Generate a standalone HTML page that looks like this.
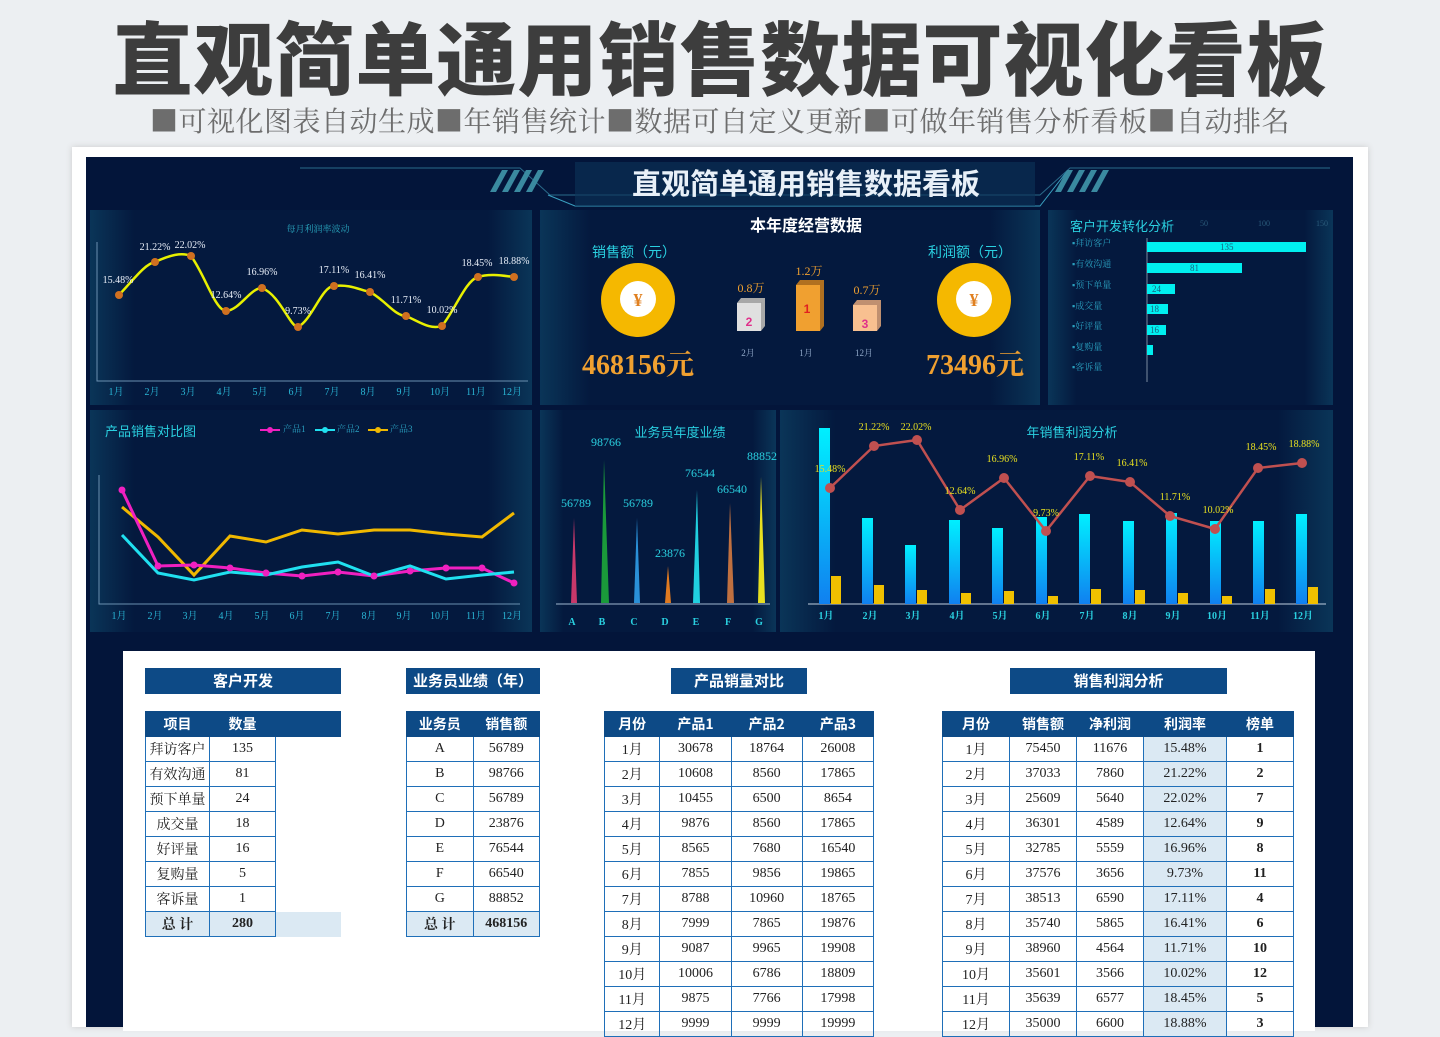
<!DOCTYPE html>
<html><head><meta charset="utf-8">
<style>
*{margin:0;padding:0;box-sizing:border-box}
body{width:1440px;height:1018px;overflow:hidden;background:#eceff2;font-family:"Liberation Sans","Noto Sans CJK SC",sans-serif;position:relative}
.abs{position:absolute}
#t1{left:0;width:1440px;top:16px;text-align:center;font-size:80px;font-weight:900;color:#3d3d3d;letter-spacing:1px;line-height:92px}
#t2{left:0;width:1440px;top:102px;text-align:center;font-family:"Noto Serif CJK SC",serif;font-size:28px;color:#6d6d6d;line-height:36px;letter-spacing:0.5px}
#card{left:72px;top:147px;width:1296px;height:880px;background:#fff;box-shadow:0 0 6px #ccc}
#dark{left:86px;top:157px;width:1267px;height:870px;background:#03153a}
#sheet{left:123px;top:651px;width:1192px;height:380px;background:#fff}
table{border-collapse:collapse;position:absolute;font-family:"Liberation Serif","Noto Serif CJK SC",serif;font-size:14px;color:#222}
td{height:25px;border:1.5px solid #1f6fb8;text-align:center;padding:0}
th{height:25px;background:#0d4a86;color:#fff;font-family:"Noto Sans CJK SC",sans-serif;font-size:14px;font-weight:700;border:1px solid #0d4a86}
.tt{position:absolute;height:26px;background:#0d4a86;color:#fff;font-weight:700;font-size:15px;text-align:center;line-height:26px;font-family:"Noto Sans CJK SC",sans-serif}
.tot td{background:#dbe9f3;font-weight:700}
.lt{background:#dbe9f3}
</style></head><body>
<div id="t1" class="abs">直观简单通用销售数据可视化看板</div>
<div id="t2" class="abs">■可视化图表自动生成■年销售统计■数据可自定义更新■可做年销售分析看板■自动排名</div>
<div id="card" class="abs"></div>
<div id="dark" class="abs"></div>
<svg class="abs" style="left:0;top:0" width="1440" height="1018" font-family="Liberation Serif,Noto Serif CJK SC,serif">
<defs>
<linearGradient id="cy" x1="0" y1="0" x2="0" y2="1"><stop offset="0" stop-color="#00f0ff"/><stop offset="1" stop-color="#1080f0"/></linearGradient>
<linearGradient id="pn" x1="0" y1="0" x2="1" y2="0"><stop offset="0" stop-color="#0a3558"/><stop offset=".1" stop-color="#04193e"/><stop offset=".9" stop-color="#04193e"/><stop offset="1" stop-color="#0a3558"/></linearGradient>
</defs>
<path d="M300 168 L520 168 L550 195 L1040 195 L1070 168 L1330 168" stroke="#2a6a8a" fill="none"/>
<path d="M548 195 L575 206 L1040 206 L1068 170" stroke="#3aa0c0" fill="none"/>
<rect x="575" y="162" width="460" height="44" fill="#0c3458" opacity=".6"/>
<g fill="#3a8aa0"><path d="M490 192l12-22h6l-12 22z"/><path d="M502 192l12-22h6l-12 22z"/><path d="M514 192l12-22h6l-12 22z"/><path d="M526 192l12-22h6l-12 22z"/>
<path d="M1055 192l12-22h6l-12 22z"/><path d="M1067 192l12-22h6l-12 22z"/><path d="M1079 192l12-22h6l-12 22z"/><path d="M1091 192l12-22h6l-12 22z"/></g>
<text x="806" y="194" text-anchor="middle" font-family="Noto Sans CJK SC,sans-serif" font-weight="700" font-size="29" fill="#e8f0f8">直观简单通用销售数据看板</text>
<rect x="90" y="210" width="442" height="195" fill="url(#pn)"/>
<rect x="540" y="210" width="500" height="195" fill="url(#pn)"/>
<rect x="1048" y="210" width="285" height="195" fill="url(#pn)"/>
<rect x="90" y="410" width="442" height="222" fill="url(#pn)"/>
<rect x="540" y="410" width="236" height="222" fill="url(#pn)"/>
<rect x="780" y="410" width="553" height="222" fill="url(#pn)"/>
<text x="318" y="232" text-anchor="middle" font-size="9" fill="#2aa8c0">每月利润率波动</text>
<path d="M97 242V381H528" stroke="#6a90b0" fill="none"/>
<path d="M119 295 C135 278,145 264,155 262 C170 255,182 252,191 256 C205 275,215 310,226 311 C240 310,250 288,262 288 C280 295,290 327,298 327 C312 320,322 286,334 286 C350 284,360 290,370 292 C385 300,395 316,406 316 C420 322,430 330,442 326 C455 310,466 280,478 277 C490 273,505 276,514 277" stroke="#e8f000" stroke-width="2.5" fill="none"/>
<g fill="#d07020">
<circle cx="119" cy="295" r="4"/><circle cx="155" cy="262" r="4"/><circle cx="191" cy="256" r="4"/><circle cx="226" cy="311" r="4"/><circle cx="262" cy="288" r="4"/><circle cx="298" cy="327" r="4"/><circle cx="334" cy="286" r="4"/><circle cx="370" cy="292" r="4"/><circle cx="406" cy="316" r="4"/><circle cx="442" cy="326" r="4"/><circle cx="478" cy="277" r="4"/><circle cx="514" cy="277" r="4"/></g>
<g font-size="10" fill="#e8eef8" text-anchor="middle">
<text x="118" y="283">15.48%</text><text x="155" y="250">21.22%</text><text x="190" y="248">22.02%</text><text x="226" y="298">12.64%</text><text x="262" y="275">16.96%</text><text x="298" y="314">9.73%</text><text x="334" y="273">17.11%</text><text x="370" y="278">16.41%</text><text x="406" y="303">11.71%</text><text x="442" y="313">10.02%</text><text x="477" y="266">18.45%</text><text x="514" y="264">18.88%</text></g>
<g font-size="10" fill="#2ab8d8" text-anchor="middle"><text x="116" y="395">1月</text><text x="152" y="395">2月</text><text x="188" y="395">3月</text><text x="224" y="395">4月</text><text x="260" y="395">5月</text><text x="296" y="395">6月</text><text x="332" y="395">7月</text><text x="368" y="395">8月</text><text x="404" y="395">9月</text><text x="440" y="395">10月</text><text x="476" y="395">11月</text><text x="512" y="395">12月</text></g>
<text x="806" y="231" text-anchor="middle" font-family="Noto Sans CJK SC,sans-serif" font-weight="700" font-size="16" fill="#fff">本年度经营数据</text>
<text x="634" y="257" text-anchor="middle" font-family="Noto Sans CJK SC,sans-serif" font-size="14" fill="#2ad0e0">销售额（元）</text>
<text x="970" y="257" text-anchor="middle" font-family="Noto Sans CJK SC,sans-serif" font-size="14" fill="#2ad0e0">利润额（元）</text>
<circle cx="638" cy="300" r="37" fill="#f5b800"/><circle cx="638" cy="299" r="18" fill="#fff"/>
<text x="638" y="306" text-anchor="middle" font-size="18" font-weight="700" fill="#e08020">¥</text>
<circle cx="974" cy="300" r="37" fill="#f5b800"/><circle cx="974" cy="299" r="18" fill="#fff"/>
<text x="974" y="306" text-anchor="middle" font-size="18" font-weight="700" fill="#e08020">¥</text>
<text x="638" y="374" text-anchor="middle" font-size="28" font-weight="700" fill="#f0a030">468156元</text>
<text x="975" y="374" text-anchor="middle" font-size="28" font-weight="700" fill="#f0a030">73496元</text>
<g font-size="12" text-anchor="middle">
<rect x="737" y="303" width="24" height="28" fill="#e0e0e0"/><path d="M737 303l4-5h24l-4 5zM761 303l4-5v28l-4 5z" fill="#a8a8a8"/>
<text x="749" y="326" fill="#e0308a" font-weight="700" font-family="Liberation Sans">2</text><text x="751" y="292" fill="#f0a030">0.8万</text>
<rect x="796" y="285" width="24" height="46" fill="#f0a030"/><path d="M796 285l4-5h24l-4 5zM820 285l4-5v46l-4 5z" fill="#b07020"/>
<text x="807" y="313" fill="#e02020" font-weight="700" font-family="Liberation Sans">1</text><text x="809" y="275" fill="#f0a030">1.2万</text>
<rect x="853" y="305" width="24" height="26" fill="#f8c090"/><path d="M853 305l4-5h24l-4 5zM877 305l4-5v26l-4 5z" fill="#c09070"/>
<text x="865" y="328" fill="#e0308a" font-weight="700" font-family="Liberation Sans">3</text><text x="867" y="294" fill="#f0a030">0.7万</text>
<g font-size="9" fill="#90a8c8"><text x="748" y="356">2月</text><text x="806" y="356">1月</text><text x="864" y="356">12月</text></g></g>
<text x="1070" y="231" font-family="Noto Sans CJK SC,sans-serif" font-size="13" fill="#2ad0e0">客户开发转化分析</text>
<g font-size="8" fill="#2a5a7a"><text x="1200" y="226">50</text><text x="1258" y="226">100</text><text x="1316" y="226">150</text></g>
<line x1="1147" y1="238" x2="1147" y2="382" stroke="#7a8aa0"/>
<g fill="#00f0f0"><rect x="1147" y="242" width="159" height="10"/><rect x="1147" y="263" width="95" height="10"/><rect x="1147" y="284" width="28" height="10"/><rect x="1147" y="304" width="21" height="10"/><rect x="1147" y="325" width="19" height="10"/><rect x="1147" y="345" width="6" height="10"/></g>
<g font-size="9" fill="#1a6080"><text x="1220" y="250">135</text><text x="1190" y="271">81</text><text x="1152" y="292">24</text><text x="1150" y="312">18</text><text x="1150" y="333">16</text></g>
<g font-size="9" fill="#2aa0c0"><text x="1072" y="246">▪拜访客户</text><text x="1072" y="267">▪有效沟通</text><text x="1072" y="288">▪预下单量</text><text x="1072" y="309">▪成交量</text><text x="1072" y="329">▪好评量</text><text x="1072" y="350">▪复购量</text><text x="1072" y="370">▪客诉量</text></g>
<text x="105" y="436" font-family="Noto Sans CJK SC,sans-serif" font-size="13" fill="#2ad0e0">产品销售对比图</text>
<g font-size="9" fill="#2aa0c0"><line x1="260" y1="430" x2="280" y2="430" stroke="#f020c0" stroke-width="2"/><circle cx="270" cy="430" r="3" fill="#f020c0"/><text x="283" y="432">产品1</text>
<line x1="315" y1="430" x2="335" y2="430" stroke="#20e0f0" stroke-width="2"/><circle cx="325" cy="430" r="3" fill="#20e0f0"/><text x="337" y="432">产品2</text>
<line x1="368" y1="430" x2="388" y2="430" stroke="#f0b800" stroke-width="2"/><circle cx="378" cy="430" r="3" fill="#f0b800"/><text x="390" y="432">产品3</text></g>
<path d="M99 475V604H520" stroke="#6a90b0" fill="none"/>
<polyline points="122,507 158,537 194,575 230,536 266,542 302,530 338,534 374,530 410,530 446,534 482,537 514,513" stroke="#f0b800" stroke-width="3" fill="none"/>
<polyline points="122,490 158,566 194,565 230,568 266,573 302,576 338,572 374,576 410,571 446,568 482,568 514,583" stroke="#f020c0" stroke-width="3" fill="none"/>
<polyline points="122,535 158,573 194,580 230,572 266,575 302,567 338,562 374,576 410,566 446,579 482,575 514,572" stroke="#20e0f0" stroke-width="3" fill="none"/>
<g fill="#f020c0"><circle cx="122" cy="490" r="3.5"/><circle cx="158" cy="566" r="3.5"/><circle cx="194" cy="565" r="3.5"/><circle cx="230" cy="568" r="3.5"/><circle cx="266" cy="573" r="3.5"/><circle cx="302" cy="576" r="3.5"/><circle cx="338" cy="572" r="3.5"/><circle cx="374" cy="576" r="3.5"/><circle cx="410" cy="571" r="3.5"/><circle cx="446" cy="568" r="3.5"/><circle cx="482" cy="568" r="3.5"/><circle cx="514" cy="583" r="3.5"/></g>
<g font-size="10" fill="#2ab8d8" text-anchor="middle"><text x="119" y="619">1月</text><text x="155" y="619">2月</text><text x="190" y="619">3月</text><text x="226" y="619">4月</text><text x="262" y="619">5月</text><text x="297" y="619">6月</text><text x="333" y="619">7月</text><text x="369" y="619">8月</text><text x="404" y="619">9月</text><text x="440" y="619">10月</text><text x="476" y="619">11月</text><text x="512" y="619">12月</text></g>
<text x="680" y="437" text-anchor="middle" font-family="Noto Sans CJK SC,sans-serif" font-size="13" fill="#2ad0e0">业务员年度业绩</text>
<line x1="556" y1="604" x2="770" y2="604" stroke="#a0b8d0"/>
<g>
<path d="M571 603L574 518L577 603Z" fill="#c8386a"/><path d="M601 603L604 460L609 603Z" fill="#1a9a3a"/><path d="M634 603L637 518L640 603Z" fill="#2a90d8"/><path d="M665 603L668 566L671 603Z" fill="#e07a20"/><path d="M693 603L697 490L700 603Z" fill="#20d0e0"/><path d="M727 603L730 503L734 603Z" fill="#c07040"/><path d="M758 603L761 477L765 603Z" fill="#e8e020"/></g>
<g font-size="12" fill="#2ad0e0" text-anchor="middle"><text x="576" y="507">56789</text><text x="606" y="446">98766</text><text x="638" y="507">56789</text><text x="670" y="557">23876</text><text x="700" y="477">76544</text><text x="732" y="493">66540</text><text x="762" y="460">88852</text></g>
<g font-size="10" font-weight="700" fill="#2ad0e0" text-anchor="middle"><text x="572" y="625">A</text><text x="602" y="625">B</text><text x="634" y="625">C</text><text x="665" y="625">D</text><text x="696" y="625">E</text><text x="728" y="625">F</text><text x="759" y="625">G</text></g>
<text x="1072" y="437" text-anchor="middle" font-family="Noto Sans CJK SC,sans-serif" font-size="13" fill="#2ad0e0">年销售利润分析</text>
<line x1="808" y1="604" x2="1326" y2="604" stroke="#c0d0e0"/>
<g fill="url(#cy)">
<rect x="819" y="428" width="11" height="176"/><rect x="862" y="518" width="11" height="86"/><rect x="905" y="545" width="11" height="59"/><rect x="949" y="520" width="11" height="84"/><rect x="992" y="528" width="11" height="76"/><rect x="1036" y="517" width="11" height="87"/><rect x="1079" y="514" width="11" height="90"/><rect x="1123" y="521" width="11" height="83"/><rect x="1166" y="513" width="11" height="91"/><rect x="1210" y="521" width="11" height="83"/><rect x="1253" y="521" width="11" height="83"/><rect x="1296" y="514" width="11" height="90"/></g>
<g fill="#f0c000">
<rect x="831" y="576" width="10" height="28"/><rect x="874" y="585" width="10" height="19"/><rect x="917" y="590" width="10" height="14"/><rect x="961" y="593" width="10" height="11"/><rect x="1004" y="591" width="10" height="13"/><rect x="1048" y="596" width="10" height="8"/><rect x="1091" y="589" width="10" height="15"/><rect x="1135" y="590" width="10" height="14"/><rect x="1178" y="593" width="10" height="11"/><rect x="1222" y="596" width="10" height="8"/><rect x="1265" y="589" width="10" height="15"/><rect x="1308" y="587" width="10" height="17"/></g>
<polyline points="830,488 874,446 917,440 960,510 1004,478 1046,531 1090,476 1130,482 1170,516 1215,529 1258,468 1302,463" stroke="#c05050" stroke-width="2.5" fill="none"/>
<g fill="#c05050"><circle cx="830" cy="488" r="5"/><circle cx="874" cy="446" r="5"/><circle cx="917" cy="440" r="5"/><circle cx="960" cy="510" r="5"/><circle cx="1004" cy="478" r="5"/><circle cx="1046" cy="531" r="5"/><circle cx="1090" cy="476" r="5"/><circle cx="1130" cy="482" r="5"/><circle cx="1170" cy="516" r="5"/><circle cx="1215" cy="529" r="5"/><circle cx="1258" cy="468" r="5"/><circle cx="1302" cy="463" r="5"/></g>
<g font-size="10" fill="#e8e020" text-anchor="middle"><text x="830" y="472">15.48%</text><text x="874" y="430">21.22%</text><text x="916" y="430">22.02%</text><text x="960" y="494">12.64%</text><text x="1002" y="462">16.96%</text><text x="1046" y="516">9.73%</text><text x="1089" y="460">17.11%</text><text x="1132" y="466">16.41%</text><text x="1175" y="500">11.71%</text><text x="1218" y="513">10.02%</text><text x="1261" y="450">18.45%</text><text x="1304" y="447">18.88%</text></g>
<g font-size="10" font-weight="700" fill="#2ad0e0" text-anchor="middle"><text x="826" y="619">1月</text><text x="870" y="619">2月</text><text x="913" y="619">3月</text><text x="957" y="619">4月</text><text x="1000" y="619">5月</text><text x="1043" y="619">6月</text><text x="1087" y="619">7月</text><text x="1130" y="619">8月</text><text x="1173" y="619">9月</text><text x="1217" y="619">10月</text><text x="1260" y="619">11月</text><text x="1303" y="619">12月</text></g>
</svg>
<div id="sheet" class="abs"></div>
<div class="tt" style="left:145px;top:668px;width:196px">客户开发</div>
<div class="tt" style="left:406px;top:668px;width:134px">业务员业绩（年）</div>
<div class="tt" style="left:671px;top:668px;width:136px">产品销量对比</div>
<div class="tt" style="left:1010px;top:668px;width:217px">销售利润分析</div>
<table style="left:145px;top:711px;width:196px"><tr><th style="width:64px">项目</th><th style="width:66px">数量</th><th></th></tr>
<tr><td>拜访客户</td><td>135</td><td style="border:none"></td></tr><tr><td>有效沟通</td><td>81</td><td style="border:none"></td></tr><tr><td>预下单量</td><td>24</td><td style="border:none"></td></tr><tr><td>成交量</td><td>18</td><td style="border:none"></td></tr><tr><td>好评量</td><td>16</td><td style="border:none"></td></tr><tr><td>复购量</td><td>5</td><td style="border:none"></td></tr><tr><td>客诉量</td><td>1</td><td style="border:none"></td></tr>
<tr class="tot"><td>总 计</td><td>280</td><td style="border:none"></td></tr></table>
<table style="left:406px;top:711px;width:134px"><tr><th>业务员</th><th>销售额</th></tr>
<tr><td>A</td><td>56789</td></tr><tr><td>B</td><td>98766</td></tr><tr><td>C</td><td>56789</td></tr><tr><td>D</td><td>23876</td></tr><tr><td>E</td><td>76544</td></tr><tr><td>F</td><td>66540</td></tr><tr><td>G</td><td>88852</td></tr><tr class="tot"><td>总 计</td><td>468156</td></tr></table>
<table style="left:604px;top:711px;width:270px"><tr><th>月份</th><th>产品1</th><th>产品2</th><th>产品3</th></tr>
<tr><td>1月</td><td>30678</td><td>18764</td><td>26008</td></tr><tr><td>2月</td><td>10608</td><td>8560</td><td>17865</td></tr><tr><td>3月</td><td>10455</td><td>6500</td><td>8654</td></tr><tr><td>4月</td><td>9876</td><td>8560</td><td>17865</td></tr><tr><td>5月</td><td>8565</td><td>7680</td><td>16540</td></tr><tr><td>6月</td><td>7855</td><td>9856</td><td>19865</td></tr><tr><td>7月</td><td>8788</td><td>10960</td><td>18765</td></tr><tr><td>8月</td><td>7999</td><td>7865</td><td>19876</td></tr><tr><td>9月</td><td>9087</td><td>9965</td><td>19908</td></tr><tr><td>10月</td><td>10006</td><td>6786</td><td>18809</td></tr><tr><td>11月</td><td>9875</td><td>7766</td><td>17998</td></tr><tr><td>12月</td><td>9999</td><td>9999</td><td>19999</td></tr></table>
<table style="left:942px;top:711px;width:352px"><tr><th style="width:67px">月份</th><th style="width:67px">销售额</th><th style="width:67px">净利润</th><th style="width:83px">利润率</th><th>榜单</th></tr>
<tr><td>1月</td><td>75450</td><td>11676</td><td class="lt">15.48%</td><td><b>1</b></td></tr><tr><td>2月</td><td>37033</td><td>7860</td><td class="lt">21.22%</td><td><b>2</b></td></tr><tr><td>3月</td><td>25609</td><td>5640</td><td class="lt">22.02%</td><td><b>7</b></td></tr><tr><td>4月</td><td>36301</td><td>4589</td><td class="lt">12.64%</td><td><b>9</b></td></tr><tr><td>5月</td><td>32785</td><td>5559</td><td class="lt">16.96%</td><td><b>8</b></td></tr><tr><td>6月</td><td>37576</td><td>3656</td><td class="lt">9.73%</td><td><b>11</b></td></tr><tr><td>7月</td><td>38513</td><td>6590</td><td class="lt">17.11%</td><td><b>4</b></td></tr><tr><td>8月</td><td>35740</td><td>5865</td><td class="lt">16.41%</td><td><b>6</b></td></tr><tr><td>9月</td><td>38960</td><td>4564</td><td class="lt">11.71%</td><td><b>10</b></td></tr><tr><td>10月</td><td>35601</td><td>3566</td><td class="lt">10.02%</td><td><b>12</b></td></tr><tr><td>11月</td><td>35639</td><td>6577</td><td class="lt">18.45%</td><td><b>5</b></td></tr><tr><td>12月</td><td>35000</td><td>6600</td><td class="lt">18.88%</td><td><b>3</b></td></tr></table>
</body></html>
